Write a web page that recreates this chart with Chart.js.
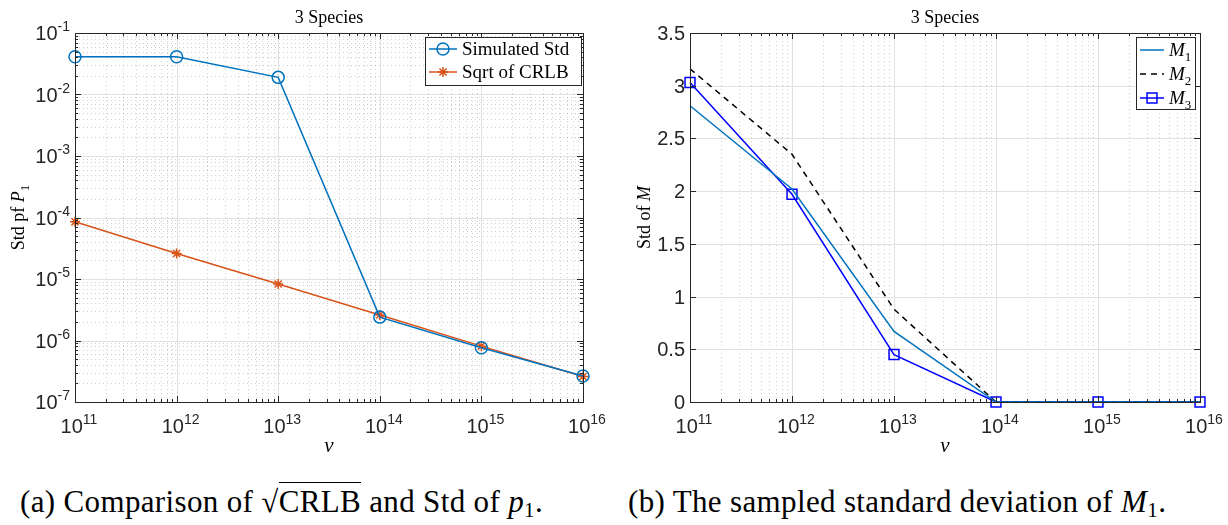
<!DOCTYPE html>
<html>
<head>
<meta charset="utf-8">
<script src="https://cdn.jsdelivr.net/npm/chart.js@4.4.0/dist/chart.umd.min.js"></script>
<style>
body { margin: 0; background: #fff; width: 1228px; height: 525px; overflow: hidden; position: relative; }
canvas { position: absolute; top: 0; }
#chartA { left: 0; }
#chartB { left: 614px; }
.cap { position: absolute; top: 484px; font-family: "Liberation Serif", "DejaVu Serif", serif; font-size: 31px; letter-spacing: 0.35px; white-space: nowrap; }
.cap sub { font-size: 21px; vertical-align: -5px; line-height: 0; }
.root { border-top: 1.5px solid #000; padding-top: 1px; }
</style>
</head>
<body>
<canvas id="chartA" width="614" height="470"></canvas>
<canvas id="chartB" width="614" height="470"></canvas>
<div class="cap" style="left:20px">(a) Comparison of √<span class="root">CRLB</span> and Std of <i>p</i><sub>1</sub>.</div>
<div class="cap" style="left:628px">(b) The sampled standard deviation of <i>M</i><sub>1</sub>.</div>
<script>
// values
const nuExponents = [11, 12, 13, 14, 15, 16];
const simulatedStd = [4.1e-2, 4.1e-2, 1.9e-2, 2.4e-6, 7.6e-7, 2.65e-7];
const sqrtCrlb = [8.5e-5, 2.6e-5, 8.3e-6, 2.6e-6, 8.1e-7, 2.6e-7];
const stdM1 = [2.81, 2.02, 0.67, 0, 0, 0];
const stdM2 = [3.16, 2.35, 0.88, 0, 0, 0];
const stdM3 = [3.03, 1.97, 0.45, 0, 0, 0];
const leftYExponents = [-7, -6, -5, -4, -3, -2, -1];
const rightYTicks = [0, 0.5, 1, 1.5, 2, 2.5, 3, 3.5];
const rightYLabels = ['0', '0.5', '1', '1.5', '2', '2.5', '3', '3.5'];
const chartTitle = '3 Species';

const SANS = '"Liberation Sans", Arial, sans-serif';
const SERIF = '"Liberation Serif", "DejaVu Serif", serif';
const BLUE = '#0072BD';
const ORANGE = '#D95319';

const nuValues = nuExponents.map(e => Math.pow(10, e));

function toPoints(ys) {
    return ys.map((y, i) => ({ x: nuValues[i], y: y }));
}

function decadeMinors(exps) {
    let out = [];
    for (let i = 0; i < exps.length - 1; i++) {
        for (let k = 2; k <= 9; k++) out.push(k * Math.pow(10, exps[i]));
    }
    return out;
}

function fontOf(p, size, family) {
    let s = p.sub || p.sup ? Math.round(size * 0.7) : size;
    return (p.italic ? 'italic ' : '') + s + 'px ' + family;
}

// draw a run of text parts (italic / sub / sup)
function drawRich(ctx, parts, x, y, size, family, align) {
    let w = 0;
    for (let p of parts) {
        ctx.font = fontOf(p, size, family);
        w += ctx.measureText(p.t).width;
    }
    let cx = align === 'center' ? x - w / 2 : align === 'right' ? x - w : x;
    ctx.textAlign = 'left';
    ctx.textBaseline = 'alphabetic';
    for (let p of parts) {
        ctx.font = fontOf(p, size, family);
        let dy = p.sub ? size * 0.25 : p.sup ? -size * 0.45 : 0;
        ctx.fillText(p.t, cx, y + dy);
        cx += ctx.measureText(p.t).width;
    }
}

function line(ctx, x1, y1, x2, y2) {
    ctx.beginPath();
    ctx.moveTo(x1, y1);
    ctx.lineTo(x2, y2);
    ctx.stroke();
}

function marker(ctx, style, x, y, r, color, lw) {
    ctx.save();
    ctx.strokeStyle = color;
    ctx.lineWidth = lw;
    ctx.setLineDash([]);
    ctx.beginPath();
    if (style === 'circle') {
        ctx.arc(x, y, r, 0, Math.PI * 2);
    } else if (style === 'rect') {
        let s = r * Math.SQRT1_2;
        ctx.rect(x - s, y - s, 2 * s, 2 * s);
    } else if (style === 'star') {
        for (let k = 0; k < 4; k++) {
            let a = k * Math.PI / 4;
            ctx.moveTo(x - r * Math.cos(a), y - r * Math.sin(a));
            ctx.lineTo(x + r * Math.cos(a), y + r * Math.sin(a));
        }
    }
    ctx.stroke();
    ctx.restore();
}

function axesPlugin(cfg) {
    return {
        id: 'matlabAxes',
        beforeDatasetsDraw(chart) {
            const ctx = chart.ctx, a = chart.chartArea;
            const xs = chart.scales.x, ys = chart.scales.y;
            ctx.save();
            ctx.lineWidth = 1;
            ctx.setLineDash([1, 3]);
            ctx.strokeStyle = 'rgba(0,0,0,0.18)';
            for (let v of cfg.xMinor) {
                let px = Math.round(xs.getPixelForValue(v)) + 0.5;
                line(ctx, px, a.top, px, a.bottom);
            }
            for (let v of cfg.yMinor) {
                let py = Math.round(ys.getPixelForValue(v)) + 0.5;
                line(ctx, a.left, py, a.right, py);
            }
            ctx.setLineDash([]);
            ctx.strokeStyle = '#e1e1e1';
            for (let v of cfg.xMajor) {
                let px = Math.round(xs.getPixelForValue(v)) + 0.5;
                line(ctx, px, a.top, px, a.bottom);
            }
            for (let v of cfg.yMajor) {
                let py = Math.round(ys.getPixelForValue(v)) + 0.5;
                line(ctx, a.left, py, a.right, py);
            }
            ctx.restore();
        },
        afterDatasetsDraw(chart) {
            const ctx = chart.ctx, a = chart.chartArea;
            const xs = chart.scales.x, ys = chart.scales.y;
            ctx.save();
            ctx.strokeStyle = '#262626';
            ctx.fillStyle = '#262626';
            ctx.lineWidth = 1;
            // inward ticks
            for (let v of cfg.xMajor.concat(cfg.xMinor)) {
                let px = Math.round(xs.getPixelForValue(v)) + 0.5;
                let len = cfg.xMajor.includes(v) ? 6 : 3;
                line(ctx, px, a.bottom, px, a.bottom - len);
                line(ctx, px, a.top, px, a.top + len);
            }
            for (let v of cfg.yMajor.concat(cfg.yMinor)) {
                let py = Math.round(ys.getPixelForValue(v)) + 0.5;
                let len = cfg.yMajor.includes(v) ? 6 : 3;
                line(ctx, a.left, py, a.left + len, py);
                line(ctx, a.right, py, a.right - len, py);
            }
            // box
            ctx.strokeRect(Math.round(a.left) + 0.5, Math.round(a.top) + 0.5,
                Math.round(a.right - a.left), Math.round(a.bottom - a.top));
            // tick labels
            cfg.xMajor.forEach((v, i) => {
                drawRich(ctx, cfg.xLabels[i], xs.getPixelForValue(v) + 4, a.bottom + 31, 20, SANS, 'center');
            });
            cfg.yMajor.forEach((v, i) => {
                drawRich(ctx, cfg.yLabels[i], a.left - 5, ys.getPixelForValue(v) + 7, 20, SANS, 'right');
            });
            // titles
            ctx.fillStyle = '#000';
            let midX = (a.left + a.right) / 2;
            drawRich(ctx, [{ t: chartTitle }], midX, 23, 18, SERIF, 'center');
            drawRich(ctx, [{ t: 'ν', italic: true }], midX, 452, 21, SERIF, 'center');
            ctx.save();
            ctx.translate(cfg.yTitleX, (a.top + a.bottom) / 2);
            ctx.rotate(-Math.PI / 2);
            drawRich(ctx, cfg.yTitle, 0, 0, 18, SERIF, 'center');
            ctx.restore();
            // legend
            let L = cfg.legend;
            ctx.fillStyle = '#fff';
            ctx.fillRect(L.x, L.y, L.w, L.h);
            ctx.strokeStyle = '#262626';
            ctx.strokeRect(L.x + 0.5, L.y + 0.5, L.w, L.h);
            L.items.forEach((item, i) => {
                let ds = chart.data.datasets[i];
                let cy = L.y + L.firstRow + i * L.rowGap;
                let x1 = L.x + 4, x2 = L.x + 4 + L.sample;
                ctx.save();
                ctx.strokeStyle = ds.borderColor;
                ctx.lineWidth = ds.borderWidth;
                ctx.setLineDash(ds.borderDash || []);
                line(ctx, x1, cy, x2, cy);
                ctx.restore();
                if (ds.pointRadius > 0) {
                    marker(ctx, ds.pointStyle, (x1 + x2) / 2, cy, ds.pointRadius, ds.pointBorderColor, ds.pointBorderWidth);
                }
                ctx.fillStyle = '#000';
                drawRich(ctx, item, x2 + 5, cy + 6, 19, SERIF, 'left');
            });
            ctx.restore();
        }
    };
}

function lineDataset(values, color, extra) {
    return Object.assign({
        data: toPoints(values),
        borderColor: color,
        borderWidth: 1.5,
        pointRadius: 0,
        pointBorderColor: color,
        pointBackgroundColor: 'rgba(0,0,0,0)',
        pointBorderWidth: 1.5,
        tension: 0,
        clip: false
    }, extra || {});
}

const xLabels = nuExponents.map(e => [{ t: '10' }, { t: String(e), sup: true }]);
const xMajor = nuValues;
const xMinor = decadeMinors(nuExponents);

// left: Simulated Std vs sqrt CRLB
new Chart(document.getElementById('chartA').getContext('2d'), {
    type: 'line',
    data: {
        datasets: [
            lineDataset(simulatedStd, BLUE, { label: 'Simulated Std', pointStyle: 'circle', pointRadius: 6 }),
            lineDataset(sqrtCrlb, ORANGE, { label: 'Sqrt of CRLB', pointStyle: 'star', pointRadius: 5 })
        ]
    },
    options: {
        responsive: false,
        animation: false,
        layout: { padding: { left: 75, right: 31, top: 33, bottom: 68 } },
        plugins: { legend: { display: false }, tooltip: { enabled: false } },
        scales: {
            x: { type: 'logarithmic', display: false, min: 1e11, max: 1e16 },
            y: { type: 'logarithmic', display: false, min: 1e-7, max: 1e-1 }
        }
    },
    plugins: [axesPlugin({
        xMajor: xMajor, xMinor: xMinor, xLabels: xLabels,
        yMajor: leftYExponents.map(e => Math.pow(10, e)),
        yMinor: decadeMinors(leftYExponents),
        yLabels: leftYExponents.map(e => [{ t: '10' }, { t: String(e), sup: true }]),
        yTitleX: 24,
        yTitle: [{ t: 'Std pf ' }, { t: 'P', italic: true }, { t: '1', sub: true }],
        legend: {
            x: 425, y: 37, w: 156, h: 48, firstRow: 12, rowGap: 23, sample: 28,
            items: [[{ t: 'Simulated Std' }], [{ t: 'Sqrt of CRLB' }]]
        }
    })]
});

// right: sampled std of M
new Chart(document.getElementById('chartB').getContext('2d'), {
    type: 'line',
    data: {
        datasets: [
            lineDataset(stdM1, BLUE, { label: 'M1' }),
            lineDataset(stdM2, '#000000', { label: 'M2', borderDash: [6, 5] }),
            lineDataset(stdM3, '#0000FF', { label: 'M3', pointStyle: 'rect', pointRadius: 7 })
        ]
    },
    options: {
        responsive: false,
        animation: false,
        layout: { padding: { left: 76, right: 28, top: 33, bottom: 68 } },
        plugins: { legend: { display: false }, tooltip: { enabled: false } },
        scales: {
            x: { type: 'logarithmic', display: false, min: 1e11, max: 1e16 },
            y: { type: 'linear', display: false, min: 0, max: 3.5 }
        }
    },
    plugins: [axesPlugin({
        xMajor: xMajor, xMinor: xMinor, xLabels: xLabels,
        yMajor: rightYTicks, yMinor: [],
        yLabels: rightYLabels.map(s => [{ t: s }]),
        yTitleX: 36,
        yTitle: [{ t: 'Std of ' }, { t: 'M', italic: true }],
        legend: {
            x: 522, y: 37, w: 59, h: 72, firstRow: 13, rowGap: 24, sample: 24,
            items: [
                [{ t: 'M', italic: true }, { t: '1', sub: true }],
                [{ t: 'M', italic: true }, { t: '2', sub: true }],
                [{ t: 'M', italic: true }, { t: '3', sub: true }]
            ]
        }
    })]
});
</script>
</body>
</html>
